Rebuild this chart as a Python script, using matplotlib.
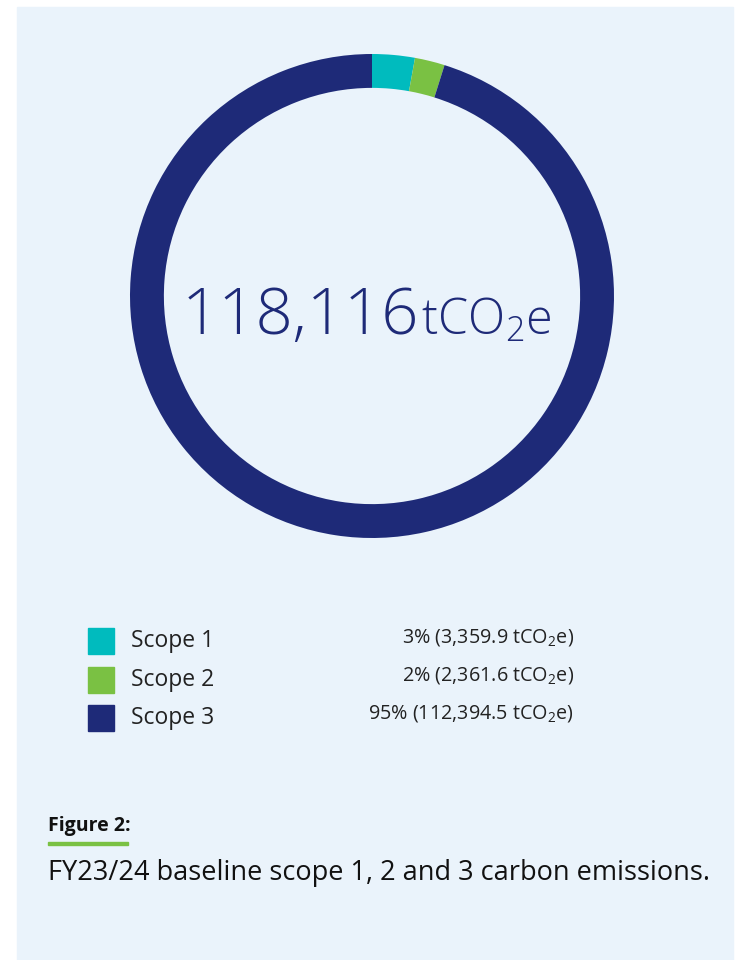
import matplotlib.pyplot as plt
from matplotlib.patches import Rectangle

plt.rcParams['font.family'] = ['Open Sans', 'DejaVu Sans']
plt.rcParams['mathtext.default'] = 'regular'

scopes = ['Scope 1', 'Scope 2', 'Scope 3']
emissions = [3359.9, 2361.6, 112394.5]
shares = ['3%', '2%', '95%']
colors = ['#00BBBE', '#7AC143', '#1E2A78']
total = 118116

W, H = 743, 960
fig = plt.figure(figsize=(W / 100, H / 100), dpi=100)
fig.patch.set_facecolor('white')


def fx(x):
    return x / W


def fy(y):
    return 1 - y / H


# light blue panel
fig.patches.append(Rectangle((fx(17), 0), fx(733) - fx(17), fy(7),
                             transform=fig.transFigure, color='#EAF3FB', zorder=-5))

# donut
cx, cy, r = 372, 296, 242
ax = fig.add_axes([fx(cx - r), fy(cy + r), 2 * r / W, 2 * r / H])
ax.patch.set_alpha(0)
ax.pie(emissions, colors=colors, startangle=90, counterclock=False,
       radius=1, wedgeprops=dict(width=0.14, linewidth=0))
ax.set_xlim(-1, 1)
ax.set_ylim(-1, 1)
ax.set_aspect('equal')
ax.axis('off')

navy = '#1E2A78'
fig.text(fx(419), fy(334), f'{total:,}', fontsize=47, fontweight=300,
         color=navy, ha='right', va='baseline', zorder=3)
fig.text(fx(421), fy(334), 'tCO$_2$e', fontsize=35, fontweight=300,
         color=navy, ha='left', va='baseline', zorder=3)

# legend
rows = [641, 680, 718]
for name, share, val, col, y in zip(scopes, shares, emissions, colors, rows):
    fig.patches.append(Rectangle((fx(88), fy(y + 13)), 26 / W, 26 / H,
                                 transform=fig.transFigure, color=col))
    fig.text(fx(131), fy(y), name, fontsize=16.5, color='#222222',
             ha='left', va='center')
    fig.text(fx(574), fy(y - 4), f'{share} ({val:,.1f} tCO$_2$e)',
             fontsize=14.2, color='#222222', ha='right', va='center')

# caption
fig.text(fx(48), fy(826), 'Figure 2:', fontsize=14, fontweight='bold',
         color='#111111', ha='left', va='center')
fig.patches.append(Rectangle((fx(48), fy(845)), 80 / W, 3 / H,
                             transform=fig.transFigure, color='#7AC143'))
fig.text(fx(48), fy(873), 'FY23/24 baseline scope 1, 2 and 3 carbon emissions.',
         fontsize=19.5, color='#111111', ha='left', va='center')

fig.savefig('out.png', dpi=100)
